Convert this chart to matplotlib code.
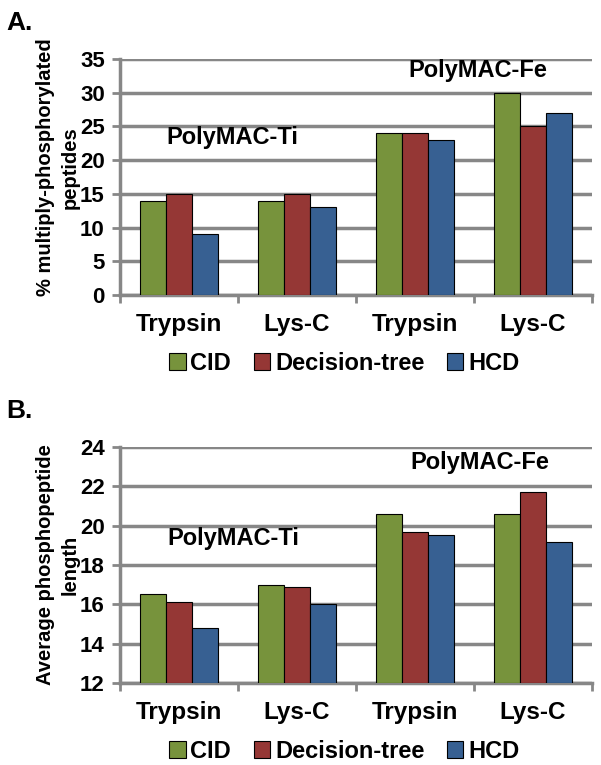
import numpy as np
import matplotlib.pyplot as plt
from matplotlib.ticker import MultipleLocator, FixedLocator

plt.rcParams['font.family'] = ['Liberation Sans', 'DejaVu Sans']
plt.rcParams['font.weight'] = 'bold'

# --- data ---
categories = ["Trypsin", "Lys-C", "Trypsin", "Lys-C"]
methods = ["CID", "Decision-tree", "HCD"]
colors = ["#77933C", "#953735", "#376092"]

multi_phos = {
    "CID": [14, 14, 24, 30],
    "Decision-tree": [15, 15, 24, 25],
    "HCD": [9, 13, 23, 27],
}
avg_length = {
    "CID": [16.5, 17.0, 20.6, 20.6],
    "Decision-tree": [16.1, 16.9, 19.7, 21.7],
    "HCD": [14.8, 16.0, 19.5, 19.15],
}

grid_col = "#878787"
fig = plt.figure(figsize=(6.01, 7.65), dpi=100)


def panel(rect, data, ylim, ystep, ylabel, ylab_y, letter, ti_pos, fe_pos):
    ax = fig.add_axes(rect)
    x = np.arange(len(categories))
    w = 1 / 4.5
    for i, m in enumerate(methods):
        ax.bar(x + (i - 1) * w, np.array(data[m]) - ylim[0], w, bottom=ylim[0],
               color=colors[i], edgecolor="black", linewidth=0.8,
               label=m, zorder=3)
    ax.set_xlim(-0.5, len(categories) - 0.5)
    ax.set_ylim(*ylim)
    ax.yaxis.set_major_locator(MultipleLocator(ystep))
    ax.grid(axis="y", color=grid_col, linewidth=2.5, zorder=0)
    ax.set_axisbelow(True)
    for s in ["top", "right"]:
        ax.spines[s].set_visible(False)
    for s in ["left", "bottom"]:
        ax.spines[s].set_color(grid_col)
        ax.spines[s].set_linewidth(2.5)
    ax.set_xticks(x)
    ax.set_xticklabels(categories, fontsize=17.5, fontweight="bold")
    ax.tick_params(axis="x", which="major", length=0, pad=13)
    ax.xaxis.set_minor_locator(FixedLocator(np.arange(-0.5, len(categories), 1)))
    ax.tick_params(axis="x", which="minor", length=6, width=2, color=grid_col,
                   direction="out")
    ax.tick_params(axis="y", length=6, width=2, color=grid_col, pad=5,
                   labelsize=16)
    for t in ax.get_yticklabels():
        t.set_fontweight("bold")
    ax.text(-0.132, ylab_y, ylabel, transform=ax.transAxes, rotation=90,
            ha="center", va="center", multialignment="center",
            fontsize=14.5, fontweight="bold", linespacing=1.35)
    ax.text(ti_pos[0], ti_pos[1], "PolyMAC-Ti", ha="center", va="center",
            fontsize=17, fontweight="bold", zorder=4)
    ax.text(fe_pos[0], fe_pos[1], "PolyMAC-Fe", ha="center", va="center",
            fontsize=17, fontweight="bold", zorder=4)
    fig.text(0.01, rect[1] + rect[3] + 0.047, letter, fontsize=19,
             fontweight="bold", ha="left", va="center")
    ax.legend(loc="center", bbox_to_anchor=(0.475, -0.29), ncol=3, frameon=False,
              handlelength=0.7, handleheight=0.7,
              handletextpad=0.2, columnspacing=0.95,
              prop={"weight": "bold", "size": 17})
    return ax


panel([0.1997, 0.6144, 0.7854, 0.3085], multi_phos, (0, 35), 5,
      "% multiply-phosphorylated\npeptides", 0.54, "A.", (0.45, 23.4), (2.53, 33.3))
panel([0.1997, 0.1072, 0.7854, 0.3085], avg_length, (12, 24), 2,
      "Average phosphopeptide\nlength", 0.5, "B.", (0.46, 19.35), (2.55, 23.2))

fig.savefig("out.png", dpi=100)
